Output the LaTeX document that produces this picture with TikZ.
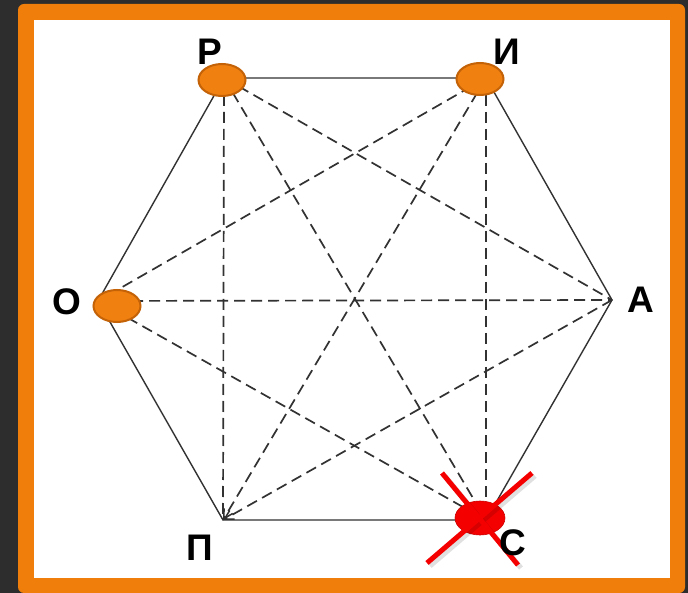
\documentclass[tikz,border=0pt]{standalone}
\usepackage{fontspec}
\setmainfont{Liberation Sans}
\usetikzlibrary{arrows.meta,shapes.geometric}
\definecolor{hxBack}{RGB}{45,45,45}
\definecolor{hxFrame}{RGB}{239,127,10}
\definecolor{hxDot}{RGB}{240,128,16}
\definecolor{hxDotLine}{RGB}{196,98,8}
\definecolor{hxLine}{RGB}{50,50,50}
\definecolor{hxCross}{RGB}{245,0,0}

\begin{document}
\begin{tikzpicture}[
  x=1pt, y=-1pt,
  lbl/.style={font=\fontsize{37}{40}\selectfont\bfseries, inner sep=0pt},
  side/.style={draw=hxLine, line width=1.4pt},
  diag/.style={draw=hxLine, line width=1.7pt, dash pattern=on 11pt off 6pt},
  a/.style={diag, -{Straight Barb[length=9pt,width=10pt,line width=1.5pt]}},
  dot/.style={ellipse, draw=hxDotLine, line width=2pt, fill=hxDot, minimum width=47pt, minimum height=32pt, inner sep=0pt},
  gone/.style={dot, draw=red!80!black, line width=0.6pt, fill=hxCross, minimum width=50pt, minimum height=34pt},
  cross/.style={draw=hxCross, line width=5pt}
]
\useasboundingbox (0,0) rectangle (688,593);
\fill[hxBack] (0,0) rectangle (688,593);
\fill[hxFrame, rounded corners=6pt] (18,4) rectangle (685,593);
\fill[white] (34,20) rectangle (670,578);
\coordinate (R) at (224,78);
\coordinate (I) at (486,78);
\coordinate (A) at (612,300);
\coordinate (S) at (486,520);
\coordinate (P) at (223,520);
\coordinate (O) at (98,301);
\draw[side] (R) -- (I) -- (A) -- (S) -- (P) -- (O) -- cycle;
\draw[diag] (R) -- (P);
\draw[diag] (R) -- (A);
\draw[diag] (R) -- (S);
\draw[diag] (I) -- (O);
\draw[diag] (I) -- (S);
\draw[diag] (O) -- (A);
\draw[diag] (O) -- (S);
\draw[a] (I) -- (P);
\draw[a] (A) -- (P);
\node[dot] (dR) at (222,80) {};
\node[dot] (dI) at (480,79) {};
\node[dot] (dO) at (117,306) {};
\node[gone] (dS) at (480,518) {};
\draw[cross, draw=black, opacity=0.12] (445,476) -- (521,568);
\draw[cross, draw=black, opacity=0.12] (535,476) -- (430,566);
\draw[cross] (442,473) -- (518,565);
\draw[cross] (532,473) -- (427,563);
\node[lbl] (lR) at (210,52) {Р};
\node[lbl] (lI) at (507,52) {И};
\node[lbl] (lA) at (641,300) {А};
\node[lbl] (lO) at (67,302) {О};
\node[lbl] (lP) at (200,548) {П};
\node[lbl] (lS) at (513,543) {С};
\end{tikzpicture}
\end{document}
